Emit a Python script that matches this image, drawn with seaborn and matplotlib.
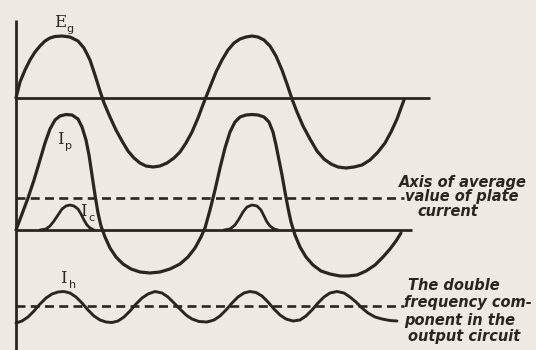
import numpy as np
import pandas as pd
import matplotlib
matplotlib.use("Agg")
import matplotlib.pyplot as plt
import seaborn as sns

# ---- data (time position along trace, amplitude above its own axis)
eg_t = [16, 20, 25, 30, 35, 40, 45, 50, 55, 62, 70, 78, 84, 90, 95, 100, 104, 110, 116, 122,
        128, 134, 140, 146, 153, 160, 167, 174, 180, 186, 192, 198, 204, 210, 216, 222, 228,
        234, 240, 246, 252, 258, 264, 270, 276, 282, 287, 292, 297, 303, 310, 317, 324, 331,
        338, 346, 354, 362, 370, 378, 385, 391, 397, 401, 404]
eg_v = [0, 16, 28, 38, 46, 52, 57, 60, 61.5, 62, 61, 57, 50, 38, 23, 7, -5, -19, -32, -43,
        -53, -60, -65, -68, -69, -68, -65, -60, -54, -45, -34, -20, -4, 11, 26, 38, 48,
        55, 59, 61, 62, 61, 58, 52, 42, 28, 14, -1, -14, -28, -41, -53, -61, -66,
        -69, -70, -69, -67, -62, -54, -45, -34, -21, -10, -2]

ip_t = [16, 22, 28, 34, 40, 45, 50, 55, 60, 66, 72, 78, 82, 86, 89, 92, 95, 98, 101, 105,
        110, 116, 123, 131, 140, 150, 160, 170, 180, 188, 195, 201, 205, 210, 215, 220, 225,
        230, 235, 240, 246, 252, 258, 264, 269, 273, 276, 279, 282, 285, 288, 291, 295, 300,
        306, 313, 321, 330, 340, 348, 357, 366, 375, 383, 390, 396, 401]
ip_v = [0, 16, 32, 50, 70, 87, 101, 110, 114, 115.5, 115, 111, 103, 90, 75, 55, 35, 17, 4, -7,
        -18, -27, -34, -39, -42, -43, -42, -39, -34, -27, -18, -7, 2, 20, 40, 62, 82,
        98, 108, 113, 115, 115.5, 115, 113, 108, 98, 85, 70, 55, 38, 22, 8, -5, -17,
        -27, -35, -41, -44, -46, -46, -45, -41, -35, -27, -19, -11, -3]

ic1_t = [40, 46, 50, 54, 58, 62, 66, 70, 74, 78, 81, 84, 87, 90, 94]
ic1_v = [0, 1, 4, 9, 15, 21, 24, 25, 24, 21, 16, 10, 5, 2, 0]
ic2_t = [224, 230, 235, 239, 243, 247, 252, 257, 261, 264, 267, 270, 274, 278]
ic2_v = [0, 1, 5, 11, 18, 23, 25, 24, 20, 14, 8, 4, 1, 0]

ih_t = [16, 22, 28, 34, 40, 46, 52, 58, 64, 70, 76, 82, 88, 94, 100, 106, 112, 118, 124, 130,
        136, 142, 148, 155, 162, 168, 174, 180, 186, 192, 199, 207, 214, 220, 226, 232, 238,
        244, 250, 256, 262, 268, 274, 280, 286, 293, 300, 306, 312, 318, 324, 330, 337, 344,
        350, 356, 362, 368, 375, 382, 390, 397]
ih_v = [-17, -15, -11, -5, 2, 8, 12, 14, 14.5, 13, 9, 3, -4, -10, -14, -16, -16.5, -15, -11, -5,
        2, 8, 12, 14.5, 13, 9, 3, -3, -9, -13, -15.5, -16, -14, -10, -4, 3, 9,
        13, 14.5, 13.5, 10, 4, -3, -9, -13, -15, -14, -10, -4, 3, 9, 13, 14.5, 13,
        9, 4, -2, -7, -11, -13, -14.5, -15]

trace_labels = [("E", "g"), ("I", "p"), ("I", "c"), ("I", "h")]
note_average = ["Axis of average", "value of plate", "current"]
note_double = ["The double", "frequency com-", "ponent in the", "output circuit"]

# ---- layout (positions in the 536x350 drawing frame)
EG_AXIS, IP_AXIS, IH_AXIS, AVG_AXIS = 98, 230, 306, 198
INK = "#2a2521"
PAPER = "#eeeae3"

sns.set_theme(style="white")
plt.rcParams['font.family'] = ['DejaVu Sans']
fig = plt.figure(figsize=(5.36, 3.5), dpi=100, facecolor=PAPER)
ax = fig.add_axes([0, 0, 1, 1])
ax.set_facecolor(PAPER)
ax.set_xlim(0, 536)
ax.set_ylim(350, 0)
ax.axis("off")

def trace(t, v, base, lw=2.3):
    df = pd.DataFrame({"t": t, "y": base - np.asarray(v, dtype=float)})
    sns.lineplot(data=df, x="t", y="y", sort=False, estimator=None, color=INK,
                 linewidth=lw, ax=ax, solid_capstyle="round", solid_joinstyle="round")

trace(eg_t, eg_v, EG_AXIS)
trace(ip_t, ip_v, IP_AXIS)
trace(ic1_t, ic1_v, IP_AXIS, lw=2.0)
trace(ic2_t, ic2_v, IP_AXIS, lw=2.0)
trace(ih_t, ih_v, IH_AXIS, lw=2.1)

# axes / reference lines
ax.vlines(16, 20, 350, color=INK, lw=2.0)
ax.hlines(EG_AXIS, 16, 430, color=INK, lw=2.0)
ax.hlines(IP_AXIS, 16, 412, color=INK, lw=2.0)
ax.hlines(AVG_AXIS, 16, 404, color=INK, lw=1.9, linestyles=(0, (3.4, 2.0)))
ax.hlines(IH_AXIS, 16, 404, color=INK, lw=1.9, linestyles=(0, (3.4, 2.0)))

# trace labels
lab_pos = [(54, 27), (57, 144), (80, 216), (60, 283)]
sub_dx = [12.5, 8.5, 8.5, 8.5]
for (main, sub), (x, y), dx in zip(trace_labels, lab_pos, sub_dx):
    ax.text(x, y, main, family="DejaVu Serif", fontsize=12, color=INK,
            va="baseline", ha="left")
    ax.text(x + dx, y + 5, sub, family="DejaVu Sans", fontsize=8, color=INK,
            va="baseline", ha="left")

# notes
note_kw = dict(fontsize=10.5, color=INK, fontstyle="italic", fontweight="bold",
               va="center", ha="left")
for s, (x, y) in zip(note_average, [(399, 182), (405, 197), (417, 212)]):
    ax.text(x, y, s, **note_kw)
for s, (x, y) in zip(note_double, [(408, 285), (404, 303), (404, 321), (408, 337)]):
    ax.text(x, y, s, **note_kw)

fig.savefig("out.png", dpi=100, facecolor=PAPER)
